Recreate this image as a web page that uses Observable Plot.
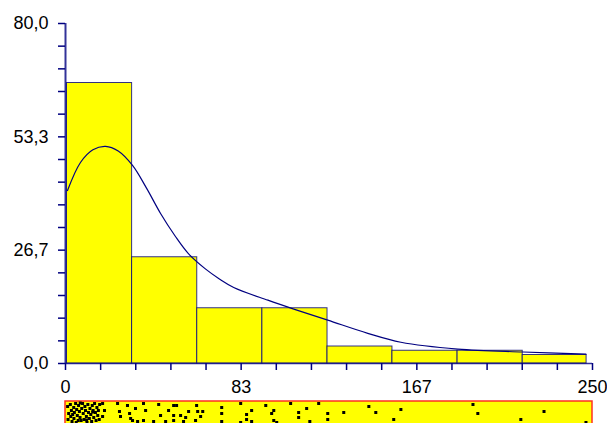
<!DOCTYPE html>
<html>
<head>
<meta charset="utf-8">
<script src="https://cdn.jsdelivr.net/npm/d3@7"></script>
<script src="https://cdn.jsdelivr.net/npm/@observablehq/plot@0.6"></script>
<style>
  html, body { margin: 0; padding: 0; background: white; }
  #chart { width: 607px; height: 423px; overflow: hidden; }
</style>
</head>
<body>
<div id="chart"></div>
<script>
// Histogram bins (x range in data units) and counts
const binStart = [0.7, 31.6, 62.5, 93.4, 124.3, 155.1, 186.0, 216.9];
const binEnd   = [31.6, 62.5, 93.4, 124.3, 155.1, 186.0, 216.9, 247.2];
const counts   = [66, 25, 13, 13, 4, 3, 3, 2];

// Density curve
const curveX = [0.95, 7.1, 13.0, 19.0, 25.0, 31.8, 38.5, 45.1, 52.0, 58.4, 66.5, 73.0, 79.8, 96.0, 108.3, 124.4, 143.4, 159.1, 186.1, 217.0, 246.9];
const curveY = [40.7, 47.3, 50.3, 51.1, 50.0, 46.6, 41.2, 35.3, 30.0, 25.8, 22.2, 19.9, 17.9, 14.9, 12.8, 10.2, 7.1, 5.0, 3.4, 2.7, 2.2];

// Axis ticks
const yTicks = [0, 26.67, 53.33, 80];
const yTickLabels = ["0,0", "26,7", "53,3", "80,0"];
const yMinor = [5.33, 10.67, 16, 21.33, 32, 37.33, 42.67, 48, 58.67, 64, 69.33, 74.67];
const xTicks = [0, 83.33, 166.67, 250];
const xTickLabels = ["0", "83", "167", "250"];
const xMinor = [16.67, 33.33, 50, 66.67, 100, 116.67, 133.33, 150, 183.33, 200, 216.67, 233.33];

// Rug / strip dots: value and vertical jitter
const rugX = [
  1.0,1.5,1.2,2.3,2.8,2.5,3.1,3.9,4.2,4.0,4.8,5.3,5.6,5.1,6.2,6.6,6.9,7.4,7.7,8.1,8.4,8.8,9.2,9.5,9.9,10.2,10.6,10.9,11.3,11.6,12.0,12.4,12.7,13.1,13.4,13.8,14.2,14.5,14.9,15.3,15.6,16.0,16.2,3.4,7.0,10.0,12.9,6.0,
  17.6,18.5,17.6,24.7,25.6,26.1,29.4,30.4,30.9,
  37.0,33.2,38.0,31.8,34.2,37.0,44.2,45.1,41.8,47.5,48.9,51.3,52.7,51.3,51.3,54.6,57.0,58.4,56.0,62.2,62.7,61.7,
  65.1,64.1,74.1,74.1,74.1,83.1,88.3,85.9,85.9,83.1,88.3,95.0,
  106.8,98.8,97.8,98.8,100.2,110.6,110.6,114.4,115.9,120.1,124.4,124.4,
  132.0,143.9,147.2,155.7,159.1,193.3,195.6,216.0,227.0,246.9
];
const rugJ = [
  5,12,18,3,9,15,20,6,11,17,2,8,14,21,4,10,16,19,7,2,12,18,5,9,15,21,3,11,17,7,13,20,4,9,16,2,11,19,6,14,9,18,3,13,1.5,18.5,10.5,19,
  2,9,15,2,10,15,4,12,17,
  2,7,9,19,20,19,3,14,20,20,9,4,4,14,19,14,16,10,20,4,10,19,
  10,15,6,12,20,2,9,13,18,21,20,4,
  2,9,12,19,21,11,16,7,20,2,12,18,
  11,5,11,18,8,3,12,18,10,21
];

const bars = counts.map((c, i) => ({x1: binStart[i], x2: binEnd[i], y: c}));
const curve = curveX.map((x, i) => ({x, y: curveY[i]}));
const rug = rugX.map((x, i) => ({x, j: rugJ[i]}));

const navy = "#000080";
const font = "'Liberation Sans', Arial, sans-serif";

const main = Plot.plot({
  width: 607,
  height: 398,
  marginLeft: 65,
  marginRight: 15,
  marginTop: 23,
  marginBottom: 35,
  style: {fontFamily: font, fontSize: "18px", color: "black", background: "white"},
  x: {domain: [0, 250], axis: null},
  y: {domain: [0, 80], axis: null},
  marks: [
    Plot.rectY(bars, {x1: "x1", x2: "x2", y: "y", fill: "#ffff00", stroke: navy, strokeWidth: 1, strokeOpacity: 0.8}),
    Plot.line(curve, {x: "x", y: "y", stroke: navy, strokeWidth: 1.2, curve: "catmull-rom"}),
    Plot.ruleX([0], {y1: 0, y2: 80, stroke: navy, strokeWidth: 2, strokeOpacity: 0.8}),
    Plot.ruleY([0], {x1: 0, x2: 250, stroke: navy, strokeWidth: 1.5, strokeOpacity: 0.8}),
    Plot.axisY(yTicks, {label: null, tickSize: 7, tickPadding: 10, stroke: navy, strokeWidth: 1.5, fill: "black",
      tickFormat: (d, i) => yTickLabels[i]}),
    Plot.axisY(yMinor, {label: null, tickSize: 7, tickPadding: 10, stroke: navy, strokeWidth: 1.5, tickFormat: () => ""}),
    Plot.axisX(xTicks, {label: null, tickSize: 7, tickPadding: 10, stroke: navy, strokeWidth: 1.5, fill: "black",
      tickFormat: (d, i) => xTickLabels[i]}),
    Plot.axisX(xMinor, {label: null, tickSize: 7, tickPadding: 10, stroke: navy, strokeWidth: 1.5, tickFormat: () => ""})
  ]
});

const strip = Plot.plot({
  width: 607,
  height: 40,
  marginLeft: 65,
  marginRight: 15,
  marginTop: 3,
  marginBottom: 0,
  style: {background: "white"},
  x: {domain: [0, 250], axis: null},
  y: {domain: [0, 37], reverse: true, axis: null},
  marks: [
    Plot.rect([{x1: 0, x2: 250, y1: 0, y2: 37}], {x1: "x1", x2: "x2", y1: "y1", y2: "y2", fill: "#ffff00", stroke: "#ff3020", strokeWidth: 1.5}),
    Plot.dot(rug, {x: "x", y: "j", symbol: "square", r: 1.7, fill: "black", stroke: "none"})
  ]
});

const el = document.getElementById("chart");
el.appendChild(main);
el.appendChild(strip);
</script>
</body>
</html>
